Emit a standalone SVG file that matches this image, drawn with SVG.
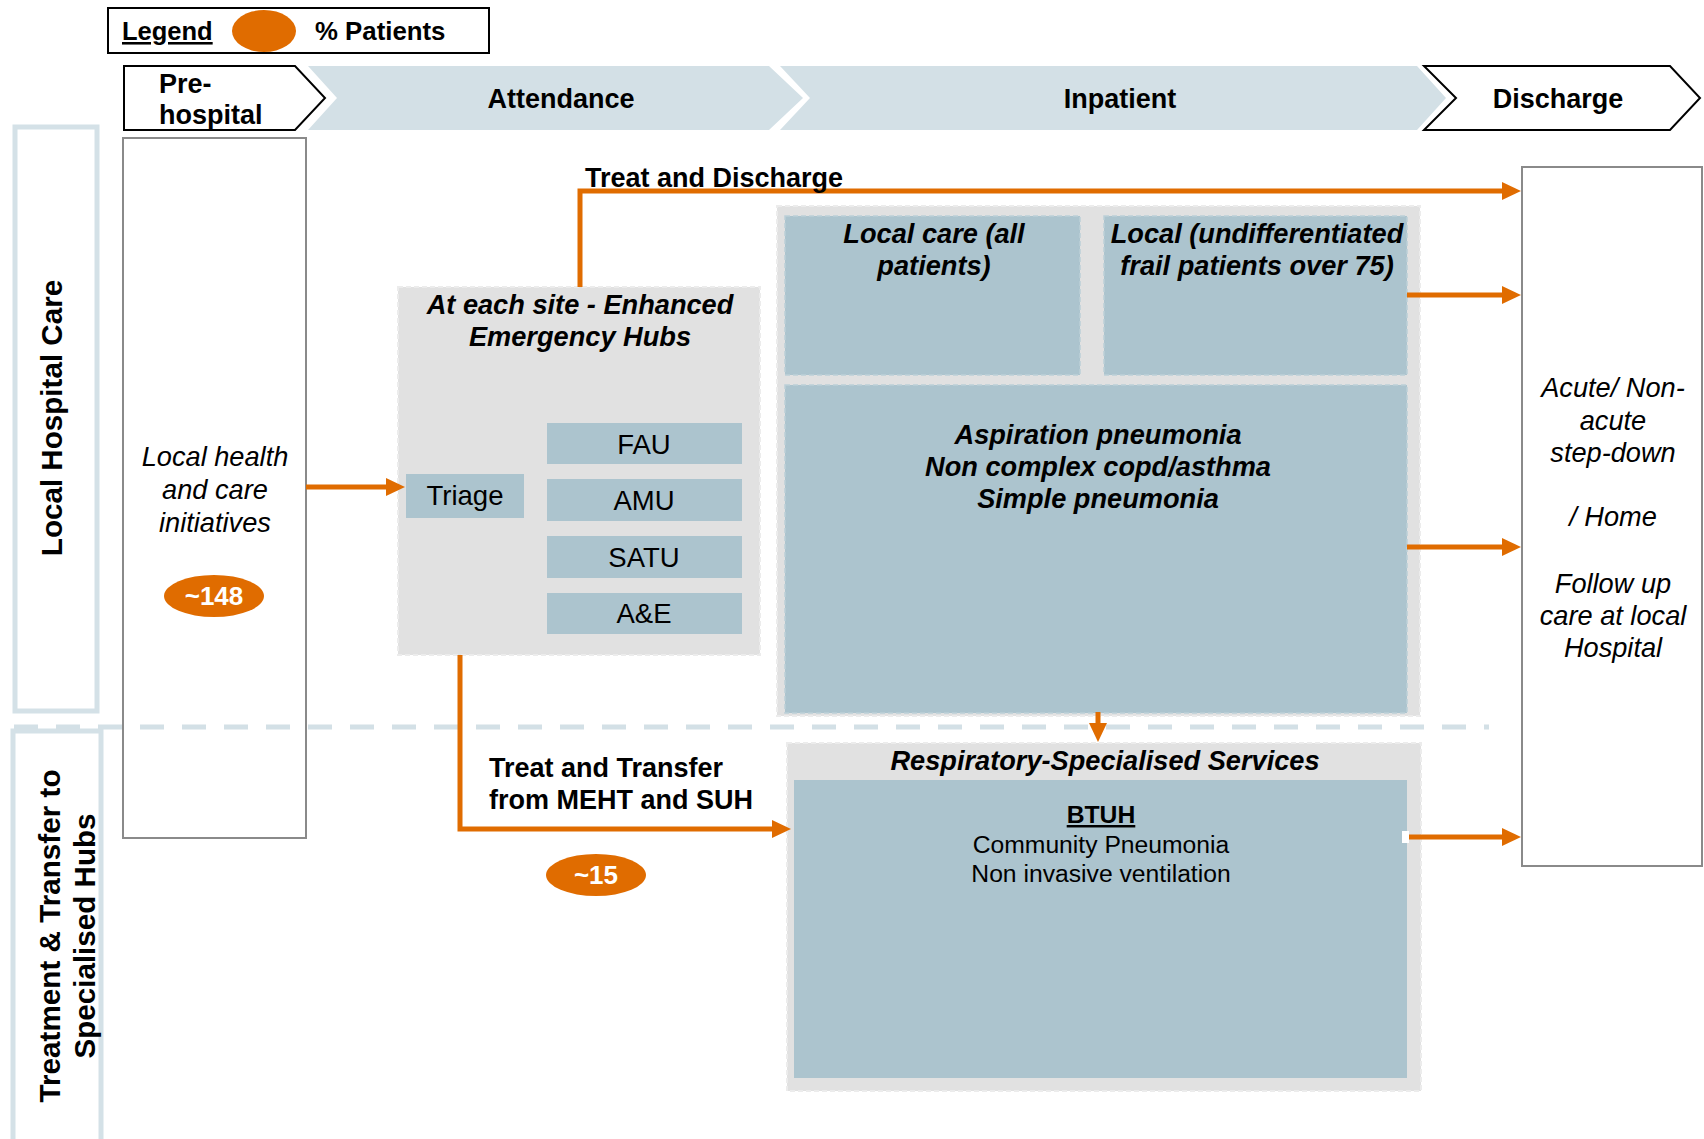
<svg xmlns="http://www.w3.org/2000/svg" width="1704" height="1139" viewBox="0 0 1704 1139">
  <defs>
    <style>
      text { font-family: "Liberation Sans", Arial, sans-serif; fill: #000; }
      .b { font-weight: bold; font-size: 27px; }
      .i { font-style: italic; font-size: 27.2px; }
      .bi { font-weight: bold; font-style: italic; font-size: 27.2px; }
      .u { font-size: 27.5px; }
      .mid { text-anchor: middle; }
      .phase { fill: #d3e0e6; }
      .phase-end { fill: #fff; stroke: #000; stroke-width: 2; }
      .lane { fill: none; stroke: #d4e1e7; stroke-width: 5; }
      .lane-t { font-weight: bold; font-size: 29.6px; text-anchor: middle; }
      .col { fill: #fff; stroke: #8a8a8a; stroke-width: 2; }
      .grey { fill: #e1e1e1; stroke: #ececec; stroke-width: 2; stroke-dasharray: 5 3; }
      .blue { fill: #acc4ce; stroke: #bccfd8; stroke-width: 1.5; stroke-dasharray: 5 3; }
      .unit { fill: #acc4ce; }
      .badge { fill: #e06c00; }
      .badge-t { fill: #fff; font-weight: bold; font-size: 26px; text-anchor: middle; }
      .flow { fill: none; stroke: #e06c00; stroke-width: 5; stroke-linejoin: miter; marker-end: url(#ah); }
    </style>
    <marker id="ah" markerUnits="userSpaceOnUse" markerWidth="20" markerHeight="20" viewBox="0 0 20 20" refX="1" refY="10" orient="auto">
      <path d="M0,1 L19,10 L0,19 z" fill="#e06c00"/>
    </marker>
  </defs>

  <rect width="1704" height="1139" fill="#fff"/>

  <!-- legend -->
  <g id="legend">
    <rect x="108" y="8" width="381" height="45" fill="#fff" stroke="#000" stroke-width="2"/>
    <text x="122" y="40" font-weight="bold" font-size="25.5" text-decoration="underline">Legend</text>
    <ellipse cx="264" cy="31" rx="32" ry="21" class="badge"/>
    <text x="315" y="40" font-weight="bold" font-size="25.8">% Patients</text>
  </g>

  <!-- phase chevrons -->
  <g id="phase-attendance">
    <polygon class="phase" points="308,66 769,66 803,98 769,130 308,130 337,98"/>
    <text x="561" y="108" class="b mid">Attendance</text>
  </g>
  <g id="phase-inpatient">
    <polygon class="phase" points="780,66 1417,66 1446,98 1417,130 780,130 810,98"/>
    <text x="1120" y="108" class="b mid">Inpatient</text>
  </g>
  <g id="phase-prehospital">
    <polygon class="phase-end" points="124,66 295,66 325,98 295,130 124,130"/>
    <text x="159" y="93" class="b">Pre-</text>
    <text x="159" y="124" class="b">hospital</text>
  </g>
  <g id="phase-discharge">
    <polygon class="phase-end" points="1424,66 1670,66 1700,98 1670,130 1424,130 1456,98"/>
    <text x="1558" y="108" class="b mid">Discharge</text>
  </g>

  <!-- swim lanes -->
  <g id="lane-local">
    <rect class="lane" x="15" y="127" width="82" height="584"/>
    <text transform="translate(62,418) rotate(-90)" class="lane-t">Local Hospital Care</text>
  </g>
  <g id="lane-specialised">
    <rect class="lane" x="13" y="731" width="88" height="420"/>
    <text transform="translate(60,936) rotate(-90)" class="lane-t" textLength="333" lengthAdjust="spacing">Treatment &amp; Transfer to</text>
    <text transform="translate(95,936) rotate(-90)" class="lane-t" font-size="29.3">Specialised Hubs</text>
  </g>

  <!-- pre-hospital column -->
  <g id="prehospital">
    <rect class="col" x="123" y="138" width="183" height="700"/>
    <text x="215" y="466" class="i mid">Local health</text>
    <text x="215" y="499" class="i mid">and care</text>
    <text x="215" y="532" class="i mid">initiatives</text>
    <ellipse cx="214" cy="596" rx="50" ry="21" class="badge"/>
    <text x="214" y="605" class="badge-t">~148</text>
  </g>

  <!-- dashed boundary between the two lanes, drawn over the column -->
  <line id="lane-divider" x1="14" y1="727" x2="1489" y2="727" stroke="#d3e0e6" stroke-width="5" stroke-dasharray="24 18"/>

  <!-- enhanced emergency hubs -->
  <g id="emergency-hubs">
    <rect class="grey" x="398" y="287" width="362" height="368"/>
    <text x="580" y="314" class="bi mid">At each site - Enhanced</text>
    <text x="580" y="346" class="bi mid">Emergency Hubs</text>
  </g>
  <g id="triage">
    <rect class="unit" x="406" y="474" width="118" height="44"/>
    <text x="465" y="505" class="u mid">Triage</text>
  </g>
  <g id="fau">
    <rect class="unit" x="547" y="423" width="195" height="41"/>
    <text x="644" y="454" class="u mid">FAU</text>
  </g>
  <g id="amu">
    <rect class="unit" x="547" y="479" width="195" height="42"/>
    <text x="644" y="510" class="u mid">AMU</text>
  </g>
  <g id="satu">
    <rect class="unit" x="547" y="536" width="195" height="42"/>
    <text x="644" y="567" class="u mid">SATU</text>
  </g>
  <g id="ae">
    <rect class="unit" x="547" y="593" width="195" height="41"/>
    <text x="644" y="623" class="u mid">A&amp;E</text>
  </g>

  <!-- inpatient care -->
  <g id="inpatient-area">
    <rect class="grey" x="777" y="206" width="643" height="510"/>
  </g>
  <g id="local-care-all">
    <rect class="blue" x="785" y="216" width="295" height="159"/>
    <text x="934" y="243" class="bi mid">Local care (all</text>
    <text x="934" y="275" class="bi mid">patients)</text>
  </g>
  <g id="local-frail">
    <rect class="blue" x="1104" y="216" width="303" height="159"/>
    <text x="1257" y="243" class="bi mid">Local (undifferentiated</text>
    <text x="1257" y="275" class="bi mid">frail patients over 75)</text>
  </g>
  <g id="local-conditions">
    <rect class="blue" x="785" y="385" width="622" height="328"/>
    <text x="1098" y="444" class="bi mid">Aspiration pneumonia</text>
    <text x="1098" y="476" class="bi mid">Non complex copd/asthma</text>
    <text x="1098" y="508" class="bi mid">Simple pneumonia</text>
  </g>

  <!-- specialised services -->
  <g id="respiratory-services">
    <rect class="grey" x="787" y="743" width="634" height="348"/>
    <text x="1105" y="770" class="bi mid">Respiratory-Specialised Services</text>
  </g>
  <g id="btuh">
    <rect class="unit" x="794" y="780" width="613" height="298"/>
    <text x="1101" y="823" class="mid" font-weight="bold" font-size="24.7" text-decoration="underline">BTUH</text>
    <text x="1101" y="853" class="mid" font-size="24.7">Community Pneumonia</text>
    <text x="1101" y="882" class="mid" font-size="24.7">Non invasive ventilation</text>
  </g>

  <!-- discharge destinations -->
  <g id="discharge-destinations">
    <rect class="col" x="1522" y="167" width="180" height="699"/>
    <text x="1613" y="397" class="i mid">Acute/ Non-</text>
    <text x="1613" y="430" class="i mid">acute</text>
    <text x="1613" y="462" class="i mid">step-down</text>
    <text x="1613" y="526" class="i mid">/ Home</text>
    <text x="1613" y="593" class="i mid">Follow up</text>
    <text x="1613" y="625" class="i mid">care at local</text>
    <text x="1613" y="657" class="i mid">Hospital</text>
  </g>

  <!-- connectors -->
  <g id="connectors">
    <path class="flow" d="M306,487 H387"/>
    <path class="flow" d="M580,287 V191 H1503"/>
    <path class="flow" d="M460,655 V829 H773"/>
    <path class="flow" d="M1407,295 H1503"/>
    <path class="flow" d="M1407,547 H1503"/>
    <rect x="1402" y="831" width="7" height="12" fill="#fff"/>
    <path class="flow" d="M1409,837 H1503"/>
    <path class="flow" d="M1098,712 V724"/>
  </g>

  <!-- flow labels -->
  <g id="flow-labels">
    <text x="585" y="187" class="b">Treat and Discharge</text>
    <text x="489" y="777" class="b">Treat and Transfer</text>
    <text x="489" y="809" class="b">from MEHT and SUH</text>
    <ellipse cx="596" cy="875" rx="50" ry="21" class="badge"/>
    <text x="596" y="884" class="badge-t">~15</text>
  </g>
</svg>
